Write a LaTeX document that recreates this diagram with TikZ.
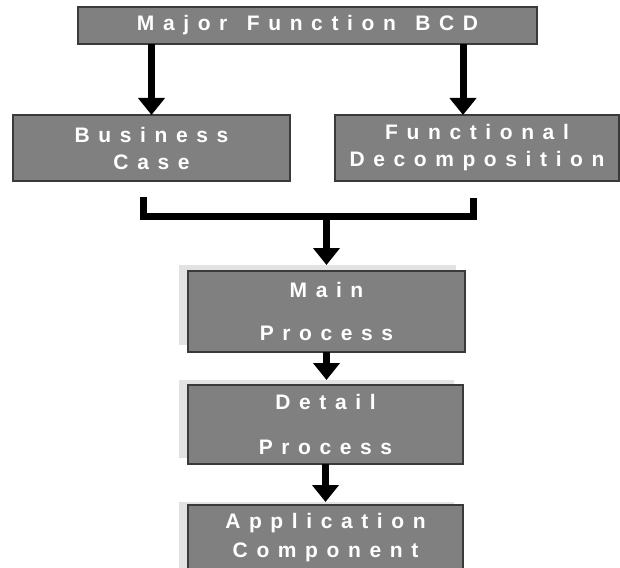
\documentclass[tikz,border=0pt]{standalone}
\usepackage{fontspec}
\newfontfamily\lblfont{Liberation Sans}[LetterSpace=41, WordSpace=1.35]
\usetikzlibrary{arrows.meta}
\definecolor{boxfill}{HTML}{808080}
\definecolor{boxedge}{HTML}{3A3A3A}
\definecolor{shade}{HTML}{E2E2E2}

\begin{document}
\begin{tikzpicture}[x=1pt,y=-1pt,
  box/.style={draw=boxedge, line width=1.4pt, fill=boxfill, text=white,
    font=\lblfont\bfseries\fontsize{21}{27}\selectfont, align=center,
    inner sep=0pt, outer sep=0pt, anchor=north west},
  shadowbox/.style={fill=shade, draw=none, inner sep=0pt, outer sep=0pt, anchor=north west},
  arr/.style={line width=7pt, -{Triangle[length=17pt,width=26pt]}},
  bar/.style={line width=7pt, line join=miter}]

% page frame
\useasboundingbox (0,0) rectangle (620,567);
\clip (0,0) rectangle (620,567);
\fill[white] (0,0) rectangle (620,567);

% top level
\node[box, minimum width=459pt, minimum height=37pt] (top) at (78,7) {Major Function BCD};

% second level
\node[box, minimum width=277pt, minimum height=66pt] (bus) at (13,115) {Business\\Case};
\node[box, minimum width=284pt, minimum height=66pt] (fun) at (335,115) {Functional\\Decomposition};

% process chain, each box with a light offset backing
\node[shadowbox, minimum width=277pt, minimum height=80pt] (mainsh) at (179,265) {};
\node[box, minimum width=277pt, minimum height=81pt] (main) at (188,271) {Main\\[16pt]Process};

\node[shadowbox, minimum width=275pt, minimum height=78pt] (detsh) at (179,380) {};
\node[box, minimum width=275pt, minimum height=79pt] (det) at (188,385) {Detail\\[18pt]Process};

\node[shadowbox, minimum width=275pt, minimum height=72pt] (appsh) at (179,502) {};
\node[box, minimum width=275pt, minimum height=66pt] (app) at (188,505) {Application\\[2pt]Component};

% arrows from the top box
\coordinate (fr) at ([xshift=-14pt]fun.north);
\draw[arr] (top.south -| bus.north) -- (bus.north);
\draw[arr] (top.south -| fr) -- (fr);

% joining bracket
\coordinate (jL) at (143,197);
\coordinate (jR) at (473,198);
\coordinate (jY) at (0,216);
\draw[bar] (jL) -- (jL |- jY) -- (jR |- jY) -- (jR);
\draw[arr] (main.north |- jY) -- (main.north |- mainsh.north);

% chain arrows
\draw[arr] (main.south) -- (main.south |- detsh.north);
\draw[arr] (det.south) -- (det.south |- appsh.north);
\end{tikzpicture}
\end{document}
